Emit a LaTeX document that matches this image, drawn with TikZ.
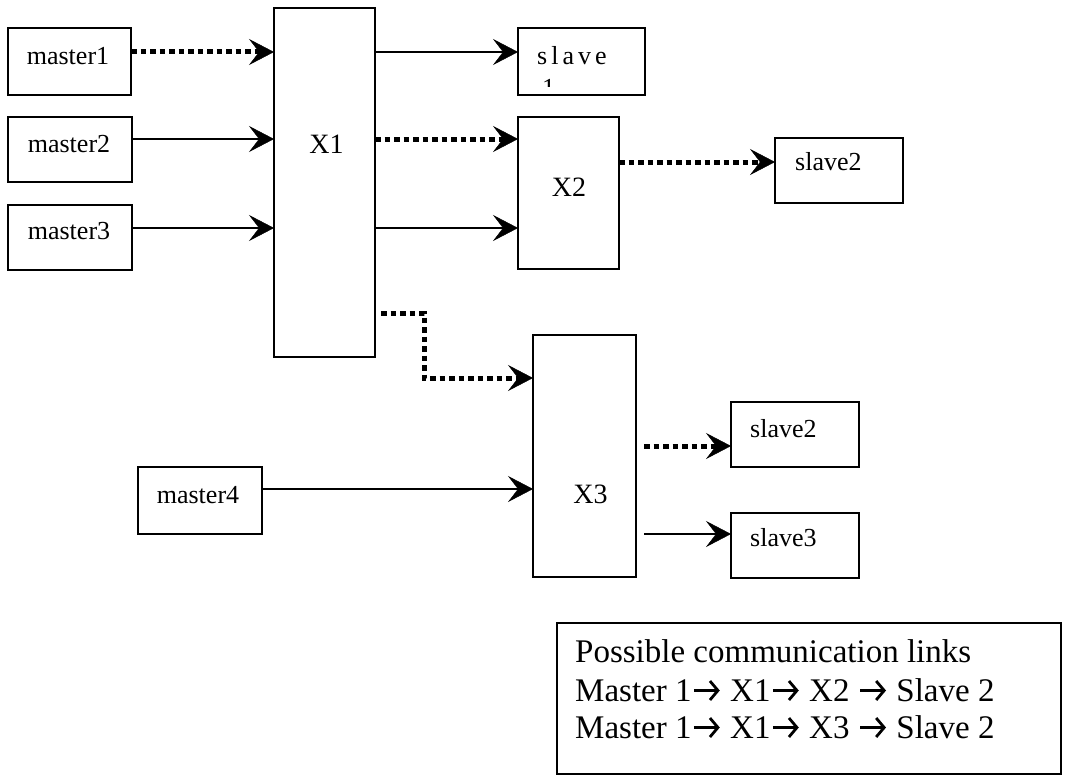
\documentclass[tikz,border=0pt]{standalone}
\usepackage{fontspec}
\setmainfont{Liberation Serif}
\usetikzlibrary{arrows.meta}
% heavy arrow used inside the legend lines
\newcommand\linkarrow{\kern1pt\tikz[baseline=0pt]\draw[line width=2.4pt,-{Straight Barb[length=8pt,width=19pt,line width=2.8pt]}] (0pt,10.5pt) -- (26pt,10.5pt);\kern1pt}
\begin{document}
\begin{tikzpicture}[x=1pt,y=-1pt,
  box/.style={draw, line width=1.8pt, inner sep=0pt, outer sep=0pt},
  xbox/.style={box, line width=1.5pt},
  lbl/.style={anchor=base, inner sep=0pt, font=\fontsize{26}{30}\selectfont},
  lbll/.style={lbl, anchor=base west},
  xlbl/.style={anchor=base, inner sep=0pt, font=\fontsize{28}{32}\selectfont},
  legtext/.style={anchor=base west, inner sep=0pt, font=\fontsize{33}{38}\selectfont},
  headtip/.style={-{Stealth[length=25pt,width=26pt,inset=10pt,line width=0.4pt]}},
  link/.style={headtip, line width=2pt},
  dotlink/.style={headtip, line width=5pt, dash pattern=on 5.5pt off 4pt},
]
\useasboundingbox (0,0) rectangle (1065,776);

% masters
\node[box, minimum width=123pt, minimum height=67pt] (m1) at (69.5,61.5) {};
\node[box, minimum width=124pt, minimum height=65pt] (m2) at (70,149.5) {};
\node[box, minimum width=124pt, minimum height=65pt] (m3) at (70,237.5) {};
\node[box, minimum width=124pt, minimum height=67pt] (m4) at (200,500.5) {};
\node[lbl] (m1t) at (68,65) {master1};
\node[lbl] (m2t) at (69,152) {master2};
\node[lbl] (m3t) at (69,239) {master3};
\node[lbl] (m4t) at (198,503) {master4};

% crossbars
\node[xbox, minimum width=101pt, minimum height=349pt] (X1) at (324.5,182.5) {};
\node[xbox, minimum width=101pt, minimum height=152pt] (X2) at (568.5,193) {};
\node[xbox, minimum width=103pt, minimum height=242pt] (X3) at (584.5,456) {};
\node[xlbl] (X1t) at (326.5,153) {X1};
\node[xlbl] (X2t) at (569,196) {X2};
\node[xlbl] (X3t) at (590.5,503) {X3};

% slaves
\node[box, minimum width=127pt, minimum height=67pt] (s1) at (581.5,61.5) {};
\node[box, minimum width=128pt, minimum height=65pt] (s2) at (839,170.5) {};
\node[box, minimum width=128pt, minimum height=65pt] (s2b) at (795,434.5) {};
\node[box, minimum width=128pt, minimum height=65pt] (s3) at (795,545.5) {};
\node[lbll] (s1t) at (537,65) {s\kern4pt l\kern4pt a\kern4pt v\kern4pt e};
\begin{scope}
  \clip (518,28) rectangle (645,86);
  \node[lbll] (s1n) at (542,96) {1};
\end{scope}
\node[lbll] (s2t) at (795,170) {slave2};
\node[lbll] (s2bt) at (750,437) {slave2};
\node[lbll] (s3t) at (750,546) {slave3};

% legend
\node[box, minimum width=504pt, minimum height=151pt] (leg) at (809,698.5) {};
\node[legtext] (leg1) at (575,662) {Possible communication links};
\node[legtext] (leg2) at (575,701) {Master 1\linkarrow{} X1\linkarrow{} X2 \linkarrow{} Slave 2};
\node[legtext] (leg3) at (575,738) {Master 1\linkarrow{} X1\linkarrow{} X3 \linkarrow{} Slave 2};

% connector rows
\coordinate (r1) at (0,52);
\coordinate (r2) at (0,139);
\coordinate (r3) at (0,228);
\coordinate (r4) at (0,162);
\coordinate (r5) at (0,313);
\coordinate (r7) at (0,489);
\coordinate (r8) at (0,446);
\coordinate (r9) at (0,534);
\coordinate (k) at (424,378);

% connectors
\draw[dotlink] (m1.east |- r1) -- (X1.west |- r1);
\draw[link] (m2.east |- r2) -- (X1.west |- r2);
\draw[link] (m3.east |- r3) -- (X1.west |- r3);
\draw[link] (X1.east |- r1) -- (s1.west |- r1);
\draw[dotlink] (X1.east |- r2) -- (X2.west |- r2);
\draw[link] (X1.east |- r3) -- (X2.west |- r3);
\draw[dotlink] (X2.east |- r4) -- (s2.west |- r4);
\draw[dotlink, shorten <=6pt] (X1.east |- r5) -| (k) -- (X3.west |- k);
\draw[link] (m4.east |- r7) -- (X3.west |- r7);
\draw[dotlink, shorten <=8pt] (X3.east |- r8) -- (s2b.west |- r8);
\draw[link, shorten <=8pt] (X3.east |- r9) -- (s3.west |- r9);
\end{tikzpicture}
\end{document}
